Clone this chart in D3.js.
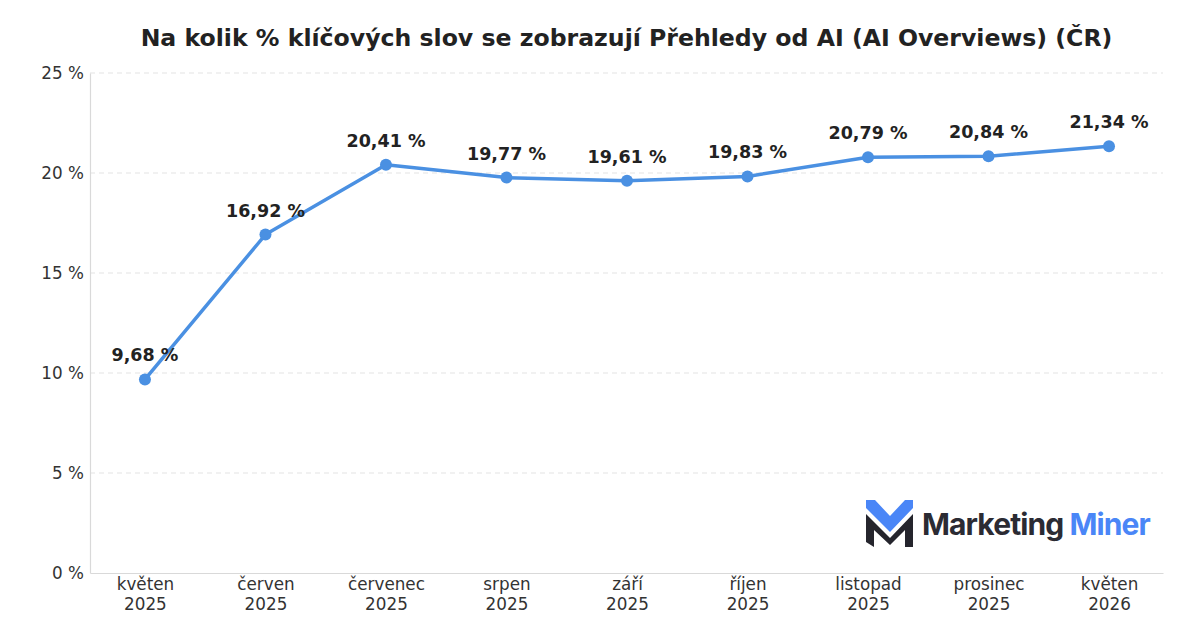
<!DOCTYPE html>
<html>
<head>
<meta charset="utf-8">
<script src="https://cdn.jsdelivr.net/npm/d3@7"></script>
<style>
  body { margin: 0; background: #fff; }
  svg { font-family: "DejaVu Sans", sans-serif; }
</style>
</head>
<body>
<svg id="chart" width="1200" height="640"></svg>
<script>
const months = ["květen", "červen", "červenec", "srpen", "září", "říjen", "listopad", "prosinec", "květen"];
const years = ["2025", "2025", "2025", "2025", "2025", "2025", "2025", "2025", "2026"];
const shares = [9.68, 16.92, 20.41, 19.77, 19.61, 19.83, 20.79, 20.84, 21.34];
const yTicks = [0, 5, 10, 15, 20, 25];

const W = 1200, H = 640;
const M = { top: 73, right: 37, bottom: 67, left: 90 };

const svg = d3.select("#chart");

const x = d3.scaleLinear()
  .domain([-0.456, shares.length - 1 + 0.448])
  .range([M.left, W - M.right]);
const y = d3.scaleLinear().domain([0, 25]).range([H - M.bottom, M.top]);

const fmt = (v) => v.toFixed(2).replace(".", ",") + " %";

// title
svg.append("text")
  .attr("x", (M.left + W - M.right) / 2)
  .attr("y", 46)
  .attr("text-anchor", "middle")
  .attr("font-size", 23.6)
  .attr("font-weight", "bold")
  .attr("fill", "#222")
  .text("Na kolik % klíčových slov se zobrazují Přehledy od AI (AI Overviews) (ČR)");

// grid
svg.append("g")
  .selectAll("line")
  .data(yTicks.filter((t) => t > 0))
  .join("line")
  .attr("x1", M.left)
  .attr("x2", W - M.right)
  .attr("y1", (d) => y(d))
  .attr("y2", (d) => y(d))
  .attr("stroke", "#e3e3e3")
  .attr("stroke-dasharray", "5,4")
  .attr("stroke-width", 1);

// y axis
const yAxis = svg.append("g")
  .attr("transform", `translate(${M.left},0)`)
  .call(d3.axisLeft(y).tickValues(yTicks).tickSize(0).tickPadding(6).tickFormat((d) => d + " %"));
yAxis.select(".domain").attr("stroke", "#d9d9d9").attr("stroke-width", 1.2);
yAxis.selectAll("text").attr("font-size", 16.8).attr("fill", "#333").attr("font-family", "DejaVu Sans");

// x axis
const xAxis = svg.append("g")
  .attr("transform", `translate(0,${H - M.bottom})`)
  .call(d3.axisBottom(x).tickValues(d3.range(shares.length)).tickSize(0).tickFormat(""));
xAxis.select(".domain").attr("stroke", "#d9d9d9").attr("stroke-width", 1.2);
xAxis.selectAll(".tick").each(function (d) {
  const t = d3.select(this).append("text")
    .attr("fill", "#333")
    .attr("font-size", 16.8)
    .attr("font-family", "DejaVu Sans")
    .attr("text-anchor", "middle");
  t.append("tspan").attr("x", 0).attr("y", 17).text(months[d]);
  t.append("tspan").attr("x", 0).attr("y", 37).text(years[d]);
});

// line
svg.append("path")
  .datum(shares)
  .attr("fill", "none")
  .attr("stroke", "#4a90e2")
  .attr("stroke-width", 3.5)
  .attr("stroke-linejoin", "round")
  .attr("d", d3.line().x((d, i) => x(i)).y((d) => y(d)));

svg.append("g")
  .selectAll("circle")
  .data(shares)
  .join("circle")
  .attr("cx", (d, i) => x(i))
  .attr("cy", (d) => y(d))
  .attr("r", 6)
  .attr("fill", "#4a90e2");

svg.append("g")
  .selectAll("text")
  .data(shares)
  .join("text")
  .attr("x", (d, i) => x(i))
  .attr("y", (d) => y(d) - 18)
  .attr("text-anchor", "middle")
  .attr("font-size", 17.5)
  .attr("font-weight", "bold")
  .attr("fill", "#222")
  .text(fmt);

// logo
const logo = svg.append("g").attr("transform", "translate(866,500)");
logo.append("path")
  .attr("d", "M0,0 L9,0 L24,16 L39,0 L47,0 L47,8 L24,32 L0,8 Z")
  .attr("fill", "#4a86f7");
logo.append("path")
  .attr("d", "M0,14 L24,38 L47,14 L47,47 L39,47 L39,30 L24,45 L8,30 L8,47 L0,42 Z")
  .attr("fill", "#25252d");
const lt = svg.append("text")
  .attr("x", 922)
  .attr("y", 535)
  .attr("font-size", 30)
  .attr("font-weight", 700)
  .attr("font-family", "Inter, 'Open Sans', sans-serif")
  .attr("letter-spacing", -0.9);
lt.append("tspan").attr("fill", "#2b2b33").text("Marketing ");
lt.append("tspan").attr("fill", "#4a86f7").text("Miner");
</script>
</body>
</html>
